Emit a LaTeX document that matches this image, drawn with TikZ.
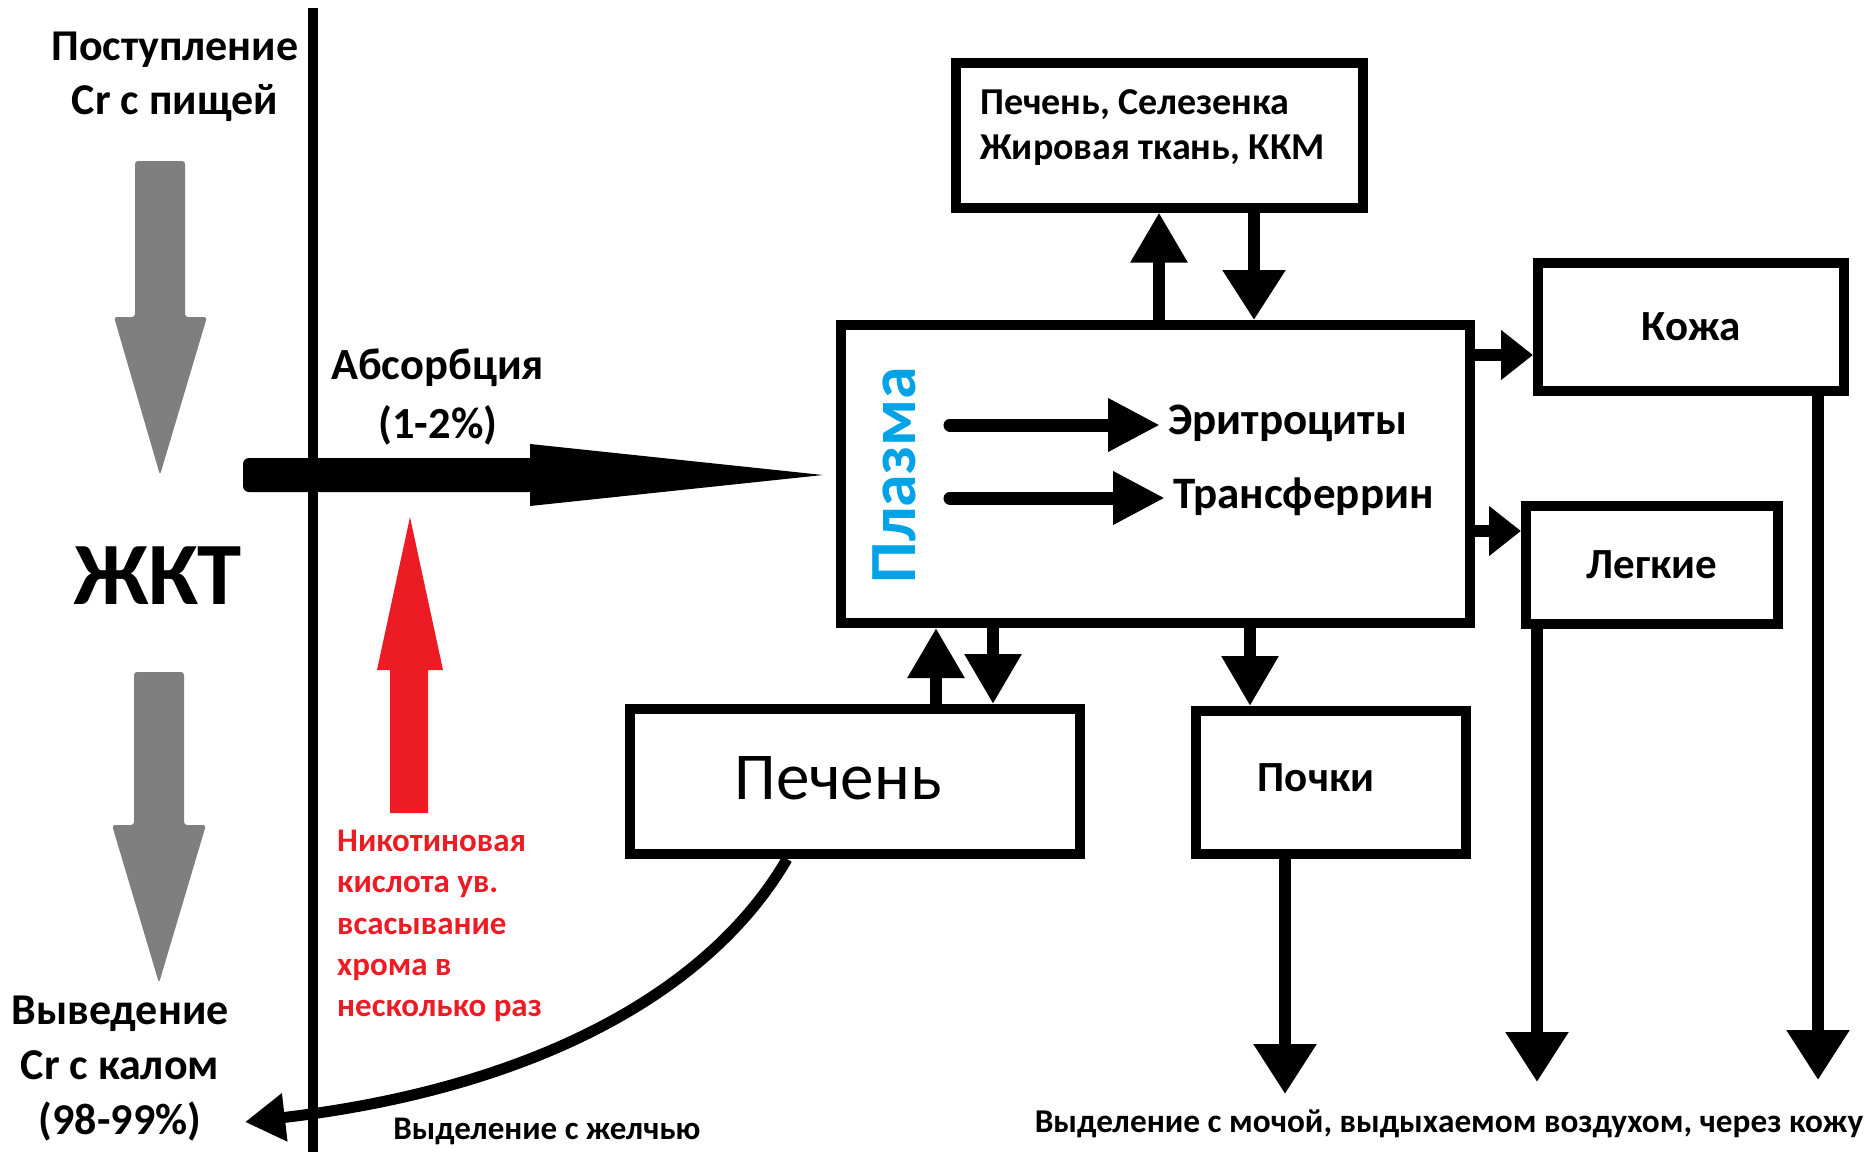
\documentclass[tikz,border=0pt]{standalone}
\usepackage{fontspec}
\setmainfont{Carlito}
\usetikzlibrary{arrows.meta,calc}
\definecolor{pblue}{RGB}{0,162,232}
\definecolor{pred}{RGB}{237,28,36}
\definecolor{pgray}{RGB}{127,127,127}
\begin{document}
\begin{tikzpicture}[x=1pt,y=-1pt,
  box/.style={draw,line width=10pt,rectangle,inner sep=0pt},
  lbl/.style={font=\bfseries\fontsize{44}{54}\selectfont,align=center,inner sep=0pt},
  connV/.style={line width=12pt,-{Triangle[length=50pt,width=54pt]}},
  connR/.style={line width=12pt,-{Triangle[length=32pt,width=48pt]}},
  connIn/.style={line width=13pt,line cap=round,-{Triangle[length=52pt,width=50pt]}},
  connD/.style={line width=12pt,-{Triangle[length=50pt,width=60pt]}},
  connC/.style={line width=11pt,-{Triangle[length=40pt,width=46pt]}}]
\useasboundingbox (0,0) rectangle (1875,1152);
\fill[white] (0,0) rectangle (1875,1152);

% boundary line
\coordinate (vtop) at (313,8);
\coordinate (vbot) at (313,1152);
\draw[line width=10pt] (vtop) -- (vbot);

% left texts
\node[lbl] (intake) at (175,77) {Поступление\\Cr с пищей};
\node[font=\bfseries\fontsize{89}{89}\selectfont,inner sep=0pt] (gkt) at (158,576) {ЖКТ};
\node[lbl,font=\bfseries\fontsize{44}{55}\selectfont] (outtxt) at (120,1069) {Выведение\\Cr с калом\\(98-99\%)};

% gray arrows
\fill[pgray,rounded corners=3pt] (135,161) -- (185,161) -- (185,317) -- (207,317) -- (160,475) -- (114,317) -- (135,317) -- cycle;
\fill[pgray,rounded corners=3pt] (134,672) -- (184,672) -- (184,825) -- (206,825) -- (159,983) -- (112,825) -- (134,825) -- cycle;

% absorption arrow
\fill[rounded corners=6pt] (243,458) rectangle (536,492);
\fill (530,444) -- (823,475) -- (530,506) -- cycle;
\node[lbl,font=\bfseries\fontsize{44.5}{59}\selectfont] (abs) at (438,397) {Абсорбция\\(1-2\%)};

% red arrow and text
\fill[pred] (410,517) -- (443,670) -- (428,670) -- (428,813) -- (390,813) -- (390,670) -- (377,670) -- cycle;
\node[font=\bfseries\fontsize{33}{41.25}\selectfont,text=pred,align=left,anchor=west,inner sep=0pt] (nic) at (337,926)
  {Никотиновая\\кислота ув.\\всасывание\\хрома в\\несколько раз};

% boxes
\node[box,minimum width=407pt,minimum height=145pt] (organs) at (1159,135) {};
\node[anchor=west,align=left,inner sep=0pt,font=\bfseries\fontsize{38}{45}\selectfont] (organsTxt) at (980,128)
  {Печень, Селезенка\\Жировая ткань, ККМ};
\node[box,minimum width=629pt,minimum height=298pt] (plasma) at (1155.5,474) {};
\node[rotate=90,text=pblue,font=\bfseries\fontsize{66}{66}\selectfont,inner sep=0pt] (plasmaLbl) at (894,475) {Плазма};
\node[box,minimum width=306pt,minimum height=128pt,font=\bfseries\fontsize{43}{43}\selectfont] (skin) at (1691,327) {Кожа};
\node[box,minimum width=252pt,minimum height=118pt,font=\bfseries\fontsize{43}{43}\selectfont] (lungs) at (1652,565) {Легкие};
\node[box,minimum width=450pt,minimum height=145pt] (liver) at (855,781.5) {};
\node[font=\fontsize{67}{67}\selectfont,inner sep=0pt] (liverTxt) at (838,778) {Печень};
\node[box,minimum width=270pt,minimum height=143pt] (kidney) at (1331,782.5) {};
\node[font=\bfseries\fontsize{43}{43}\selectfont,inner sep=0pt] (kidneyTxt) at (1316,778) {Почки};

% inner plasma arrows
\node[anchor=west,inner sep=0pt,font=\bfseries\fontsize{45}{45}\selectfont] (ery) at (1168,423) {Эритроциты};
\node[anchor=west,inner sep=0pt,font=\bfseries\fontsize{45}{45}\selectfont] (trf) at (1173,497) {Трансферрин};
\coordinate (e0) at (950,425);
\coordinate (t0) at (950,498);
\draw[connIn] (e0) -- ([xshift=-8pt]ery.west |- e0);
\draw[connIn] (t0) -- ([xshift=-8pt]trf.west |- t0);

% plasma <-> organs
\draw[connV] (organs.south |- plasma.north) -- (organs.south);
\draw[connD] ([xshift=95pt]organs.south) -- ([xshift=95pt]organs.south |- plasma.north);

% plasma -> skin, lungs
\coordinate (sk) at ([yshift=-28pt]skin.west);
\coordinate (lu) at ([yshift=34pt]lungs.west);
\draw[connR] (plasma.east |- sk) -- (sk);
\draw[connR] (plasma.east |- lu) -- (lu);

% plasma <-> liver, kidney
\draw[connV] ([xshift=81pt]liver.north) -- ([xshift=81pt]liver.north |- plasma.south);
\draw[connV] ([xshift=138pt]liver.north |- plasma.south) -- ([xshift=138pt]liver.north);
\draw[connV] ([xshift=-81pt]kidney.north |- plasma.south) -- ([xshift=-81pt]kidney.north);

% excretion
\coordinate (kEnd) at (1285,1094);
\coordinate (lEnd) at (1537,1082);
\coordinate (sEnd) at (1818,1080);
\draw[connD] (kidney.south -| kEnd) -- (kEnd);
\draw[connD] (lungs.south -| lEnd) -- (lEnd);
\draw[connD] (skin.south -| sEnd) -- (sEnd);
\node[font=\bfseries\fontsize{33.3}{34}\selectfont,inner sep=0pt] (excr) at (1449,1124) {Выделение с мочой, выдыхаемом воздухом, через кожу};

% bile
\coordinate (bEnd) at (245,1122);
\draw[connC] ([xshift=-68pt]liver.south) .. controls (705,1000) and (520,1090) .. (bEnd);
\node[font=\bfseries\fontsize{33}{33}\selectfont,inner sep=0pt] (bile) at (547,1131) {Выделение с желчью};
\end{tikzpicture}
\end{document}
